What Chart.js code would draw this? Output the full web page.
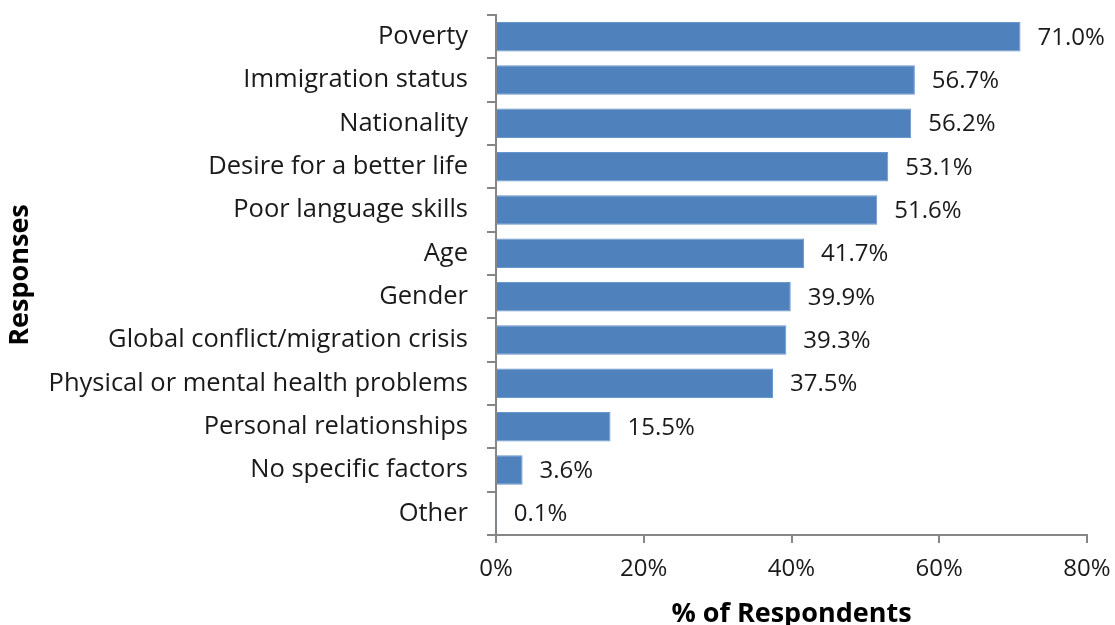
<!DOCTYPE html>
<html>
<head>
<meta charset="utf-8">
<script src="https://cdn.jsdelivr.net/npm/chart.js@4.4.0/dist/chart.umd.min.js"></script>
<style>
  html, body { margin: 0; padding: 0; background: #fff; overflow: hidden; }
  #wrap { position: relative; width: 1115px; height: 645px; }
</style>
</head>
<body>
<div id="wrap"><canvas id="factors"></canvas></div>
<script>
const categories = [
  'Poverty',
  'Immigration status',
  'Nationality',
  'Desire for a better life',
  'Poor language skills',
  'Age',
  'Gender',
  'Global conflict/migration crisis',
  'Physical or mental health problems',
  'Personal relationships',
  'No specific factors',
  'Other'
];
const percentValues = [71.0, 56.7, 56.2, 53.1, 51.6, 41.7, 39.9, 39.3, 37.5, 15.5, 3.6, 0.1];
const xTicks = [0, 20, 40, 60, 80];

const FONT = '"Open Sans", sans-serif';
const AXIS_GREY = '#868686';

// writes "xx.x%" to the right of each bar
const valueLabels = {
  id: 'valueLabels',
  afterDatasetsDraw(chart) {
    const ctx = chart.ctx;
    const meta = chart.getDatasetMeta(0);
    ctx.save();
    ctx.font = '24px ' + FONT;
    ctx.fillStyle = '#1a1a1a';
    ctx.textAlign = 'left';
    ctx.textBaseline = 'middle';
    meta.data.forEach((bar, i) => {
      ctx.fillText(percentValues[i].toFixed(1) + '%', bar.x + 17, bar.y + 1);
    });
    ctx.restore();
  }
};

new Chart(document.getElementById('factors'), {
  type: 'bar',
  data: {
    labels: categories,
    datasets: [{
      data: percentValues,
      backgroundColor: '#4F81BD',
      borderColor: '#6A96CC',
      borderWidth: 1,
      categoryPercentage: 0.68,
      barPercentage: 1.0
    }]
  },
  options: {
    indexAxis: 'y',
    responsive: true,
    maintainAspectRatio: false,
    animation: false,
    layout: { padding: 0 },
    plugins: {
      legend: { display: false },
      tooltip: { enabled: false }
    },
    scales: {
      y: {
        afterFit(scale) {
          scale.width = 496;
          scale.paddingTop = 15;
          scale.paddingBottom = 0;
        },
        grid: {
          drawOnChartArea: false,
          drawTicks: true,
          tickLength: 9,
          color: AXIS_GREY,
          lineWidth: 2
        },
        border: { color: AXIS_GREY, width: 2 },
        ticks: {
          color: '#1a1a1a',
          padding: 19,
          font: { family: FONT, size: 25.5 }
        },
        title: {
          display: true,
          text: 'Responses',
          color: '#000',
          font: { family: FONT, size: 27, weight: 'bold' },
          padding: { top: 4, bottom: 0 }
        }
      },
      x: {
        min: 0,
        max: 80,
        afterFit(scale) {
          scale.height = 110;
          scale.paddingLeft = 0;
          scale.paddingRight = 28;
        },
        afterBuildTicks(scale) { scale.ticks = xTicks.map(v => ({ value: v })); },
        grid: {
          drawOnChartArea: false,
          drawTicks: true,
          tickLength: 8,
          color: AXIS_GREY,
          lineWidth: 2
        },
        border: { color: AXIS_GREY, width: 2 },
        ticks: {
          color: '#1a1a1a',
          padding: 12,
          maxRotation: 0,
          font: { family: FONT, size: 24 },
          callback: v => v + '%'
        },
        title: {
          display: true,
          text: '% of Respondents',
          color: '#000',
          font: { family: FONT, size: 27, weight: 'bold' },
          padding: { top: 0, bottom: 14 }
        }
      }
    }
  },
  plugins: [valueLabels]
});
</script>
</body>
</html>
